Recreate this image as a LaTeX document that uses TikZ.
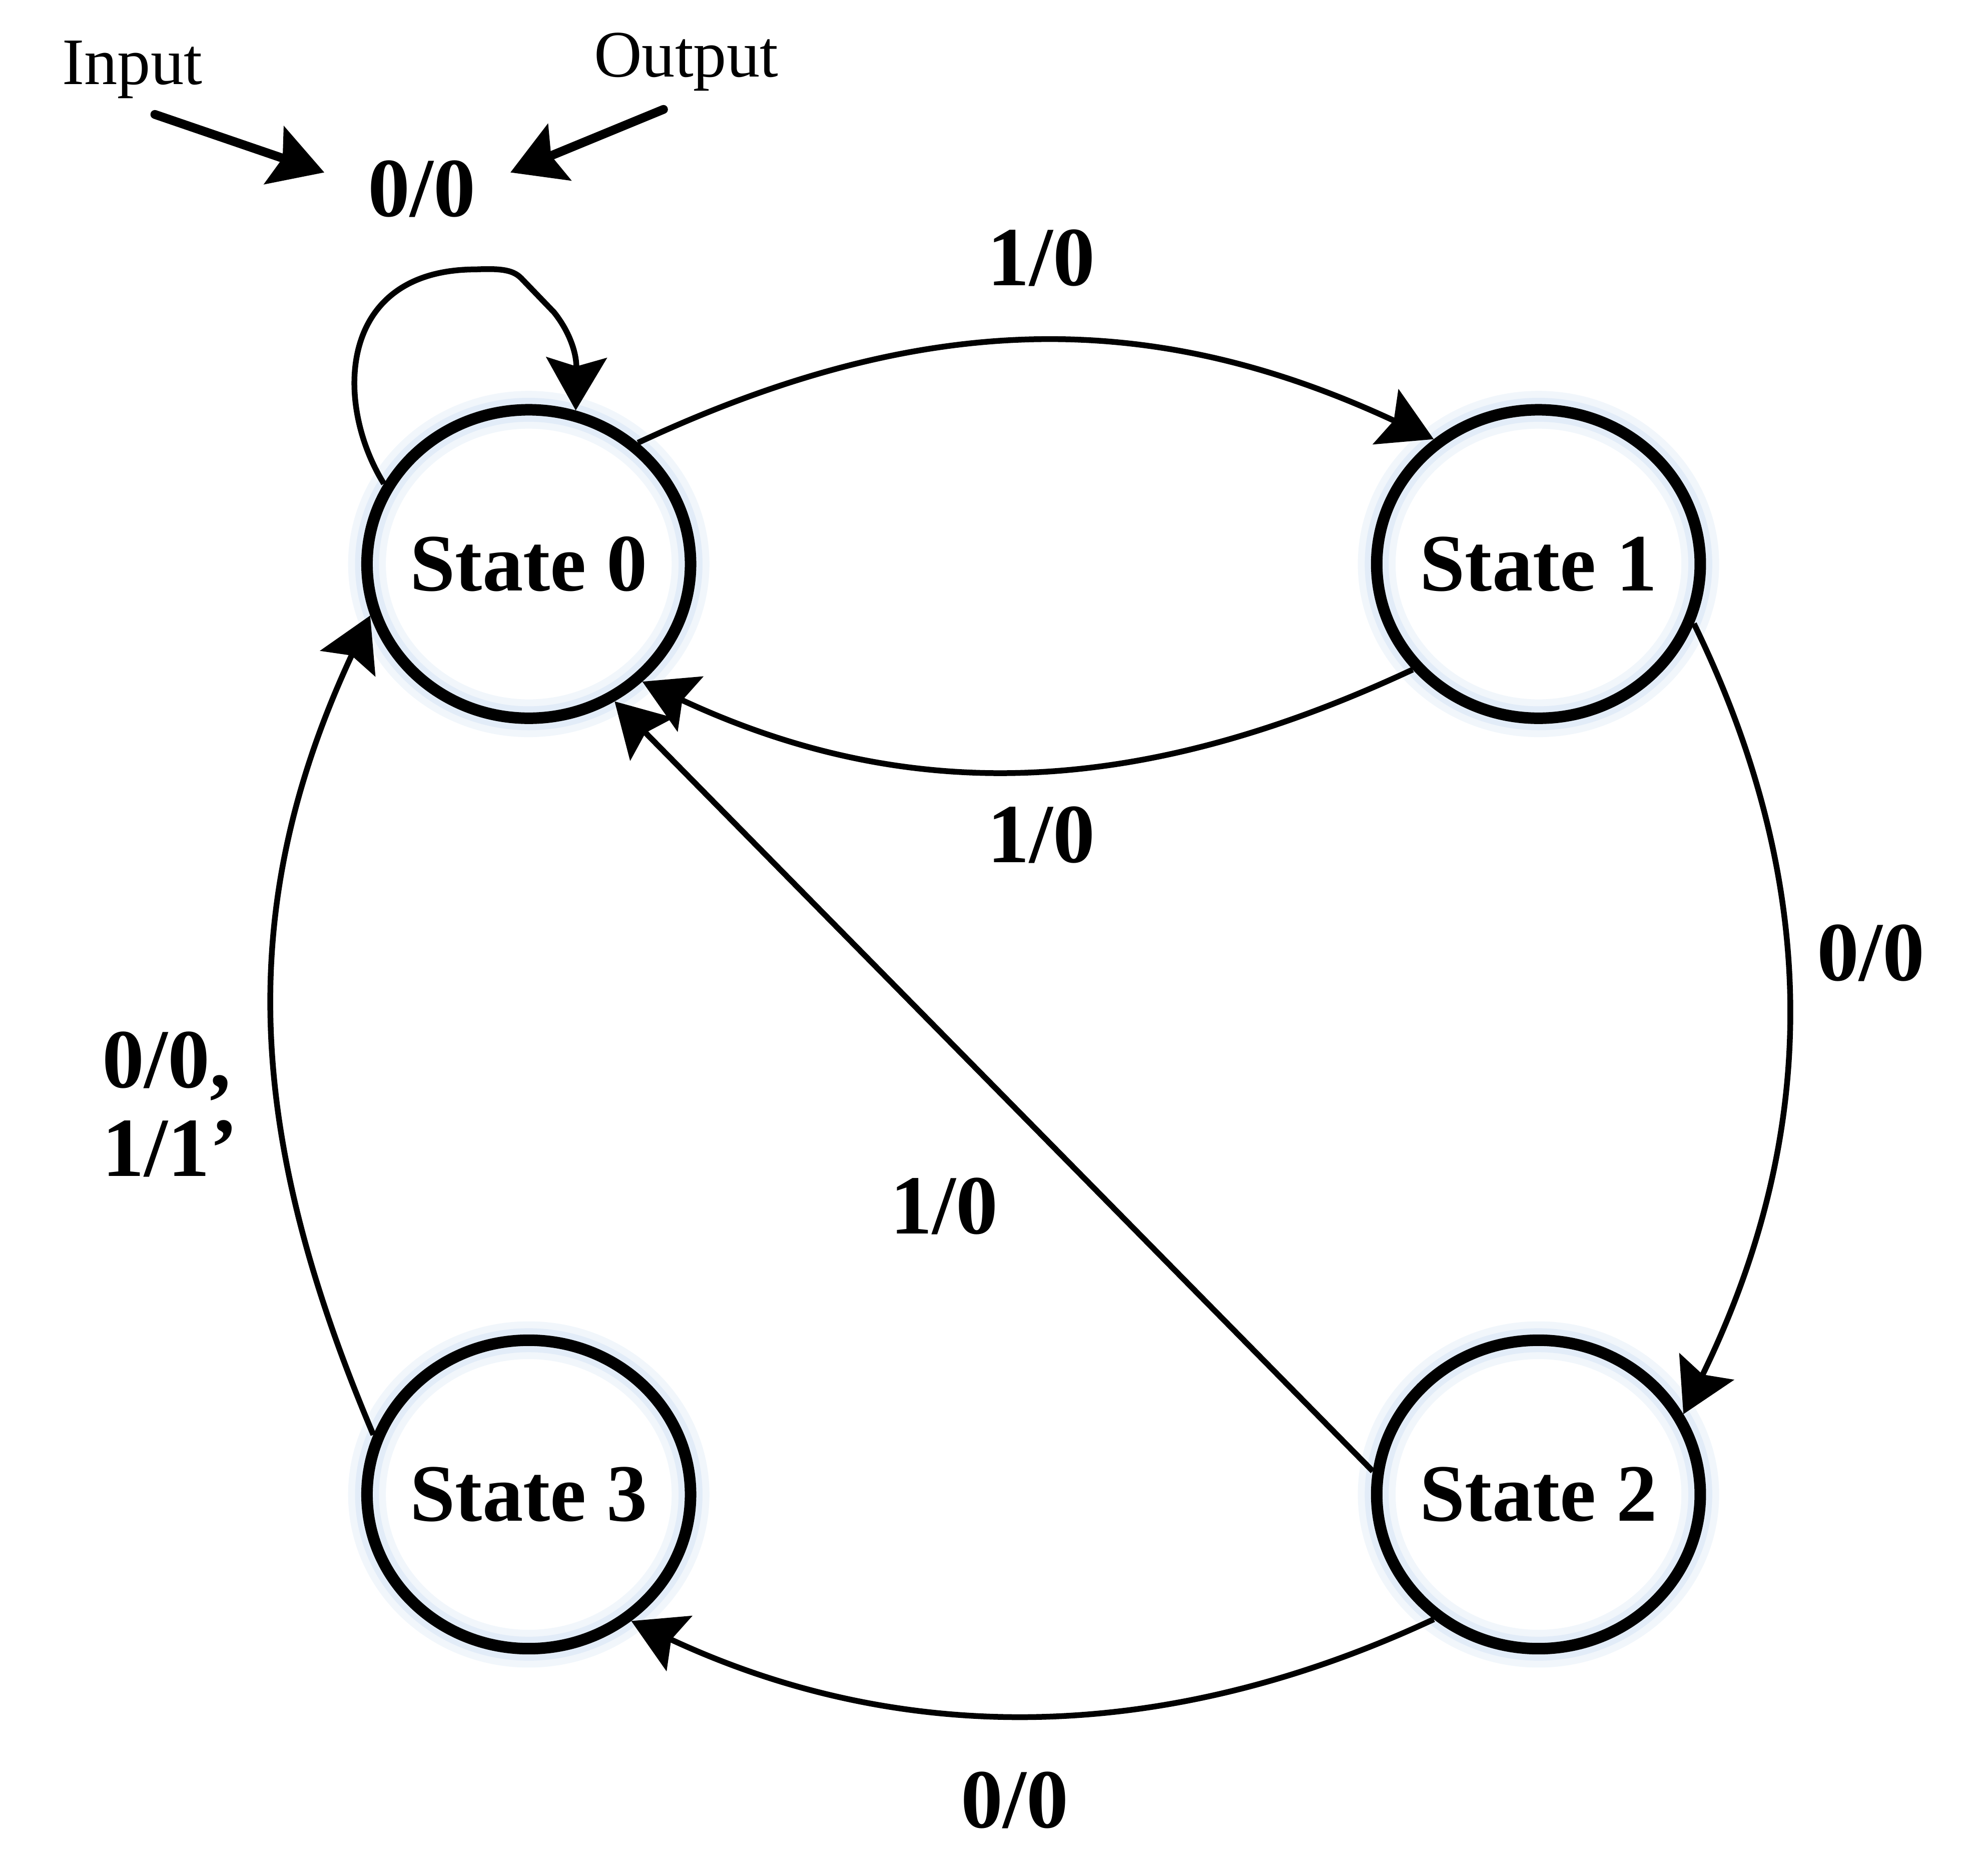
\documentclass[tikz,border=0pt]{standalone}
\usepackage{fontspec}
\setmainfont{Liberation Serif}
\usepackage{tikz}
\usetikzlibrary{arrows.meta}
\usetikzlibrary{shapes,positioning}
\definecolor{glow}{RGB}{214,228,245}
\tikzstyle{state} = [ellipse, draw, line width=2.6pt, minimum width=2.57cm, minimum height=2.45cm, inner sep=-0.15cm, font=\fontsize{18.4}{20}\selectfont\bfseries, preaction={draw=glow!35, line width=3mm}, preaction={draw=glow!70, line width=1.9mm}]
\tikzstyle{trans} = [draw, line width=1.3pt, ->]
\tikzstyle{pointer} = [draw, line width=2pt, ->, line cap=round]
\tikzstyle{lbl} = [inner sep=0pt, font=\fontsize{19}{20}\selectfont\bfseries]
\tikzstyle{note} = [inner sep=0pt, font=\fontsize{15}{17}\selectfont]

\begin{document}
\begin{tikzpicture}[>={Stealth[length=4.2mm, width=4.8mm, inset=0.7mm]}]
	\useasboundingbox (0,0) rectangle (15.6,14.9);
	\node[state] (s0) at (4.20,10.42) {State 0};
	\node[state] (s1) [right of=s0, node distance=8.02cm] {State 1};
	\node[state] (s3) [below of=s0, node distance=7.39cm] {State 3};
	\node[state] (s2) [right of=s3, node distance=8.02cm] {State 2};
	% transitions
	\draw[trans] (s0.151) .. controls (2.65,11.70) and (2.68,12.76) .. (3.78,12.76) .. controls (4.00,12.77) and (4.08,12.75) .. (4.14,12.69) -- (4.40,12.42) .. controls (4.52,12.27) and (4.58,12.10) .. (s0.73);
	\draw[trans] (s0.48) .. controls +(25:2.49) and +(155:2.49) .. (s1.130);
	\draw[trans] (s1.220) .. controls +(205:2.37) and +(-25:2.37) .. (s0.-46);
	\draw[trans] (s1.-21) .. controls +(-64:2.40) and +(64:2.40) .. (s2.29);
	\draw[trans] (s2.230) .. controls +(205:2.37) and +(-25:2.37) .. (s3.-51);
	\draw[trans] (s3.159) .. controls +(113:2.6) and +(245:2.55) .. (s0.198);
	\draw[trans] (s2.172) -- (s0.-58);
	% labels
	\node[lbl] (t00) at (3.35,13.40) {0/0};
	\node[lbl] (t01) at (8.27,12.85) {1/0};
	\node[lbl] (t10) at (8.27,8.27) {1/0};
	\node[lbl] (t12) at (14.86,7.33) {0/0};
	\node[lbl] (t20) at (7.50,5.32) {1/0};
	\node[lbl] (t23) at (8.06,0.60) {0/0};
	\node[lbl, align=left] (t30) at (1.35,6.13) {0/0,\\1/1'};
	\node[note, anchor=base] (inp) at (1.05,14.23) {Input};
	\node[note, anchor=base] (outp) at (5.45,14.29) {Output};
	\draw[pointer] ([shift={(0.18,-0.12)}]inp.south) -- ([shift={(-0.34,0.13)}]t00.west);
	\draw[pointer] ([shift={(-0.18,-0.14)}]outp.south) -- ([shift={(0.27,0.13)}]t00.east);
\end{tikzpicture}
\end{document}
